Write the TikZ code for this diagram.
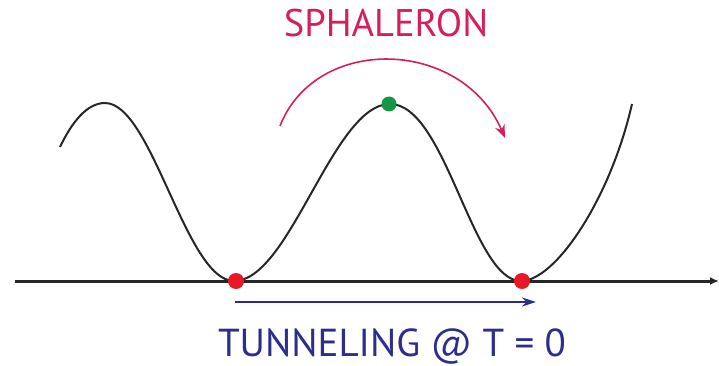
\documentclass[tikz,border=0pt]{standalone}
\usepackage{fontspec}
\setmainfont{PT Sans}
\usetikzlibrary{arrows.meta}
\definecolor{dotred}{RGB}{232,24,40}
\definecolor{dotgreen}{RGB}{20,150,70}
\definecolor{sphpink}{RGB}{214,30,92}
\definecolor{tunblue}{RGB}{45,45,140}
\tikzset{
  potential/.style={line width=2pt, black!85},
  axisline/.style={line width=3pt, black!85, -{Latex[length=9pt,width=8pt]}},
  reddot/.style={circle, fill=dotred, inner sep=0pt, minimum size=16pt},
  greendot/.style={circle, fill=dotgreen, inner sep=0pt, minimum size=15pt},
  spharrow/.style={line width=1.6pt, sphpink, -{Stealth[length=13pt,width=10pt]}},
  tunarrow/.style={line width=2.2pt, tunblue, -{Stealth[length=14pt,width=9pt]}},
  sphlabel/.style={text=sphpink, inner sep=0pt, anchor=base, font=\fontsize{38.5}{40}\selectfont},
  tunlabel/.style={text=tunblue, inner sep=0pt, anchor=base, font=\fontsize{39}{42}\selectfont},
}
\begin{document}
\begin{tikzpicture}[x=1pt,y=-1pt]
\useasboundingbox (0,0) rectangle (719,366);
% axis
\coordinate (axL) at (15,281);
\coordinate (axR) at (719,281);
\draw[axisline] (axL) -- (axR);
% potential curve
\draw[potential] (60,147) .. controls (72,122) and (87,103) .. (105,103)
  .. controls (152,103) and (186,281) .. (234,281)
  .. controls (290,281) and (333,104) .. (390,104)
  .. controls (446,104) and (472,281) .. (521,281)
  .. controls (555,281) and (610,200) .. (632,104);
% dots
\node[reddot] (min1) at (236,281) {};
\node[reddot] (min2) at (522,281) {};
\node[greendot] (top) at (389,104) {};
% sphaleron arrow
\coordinate (sphS) at (280,126);
\coordinate (sphE) at (505,138);
\draw[spharrow] (sphS) .. controls (316,34) and (462,38) .. (sphE);
\node[sphlabel] (sph) at (386,37) {SPHALERON};
% tunneling arrow
\coordinate (tunS) at (235,302);
\coordinate (tunE) at (536,302);
\draw[tunarrow] (tunS) -- (tunE);
\node[tunlabel] (tun) at (392,356) {TUNNELING @ T = 0};
\end{tikzpicture}
\end{document}
